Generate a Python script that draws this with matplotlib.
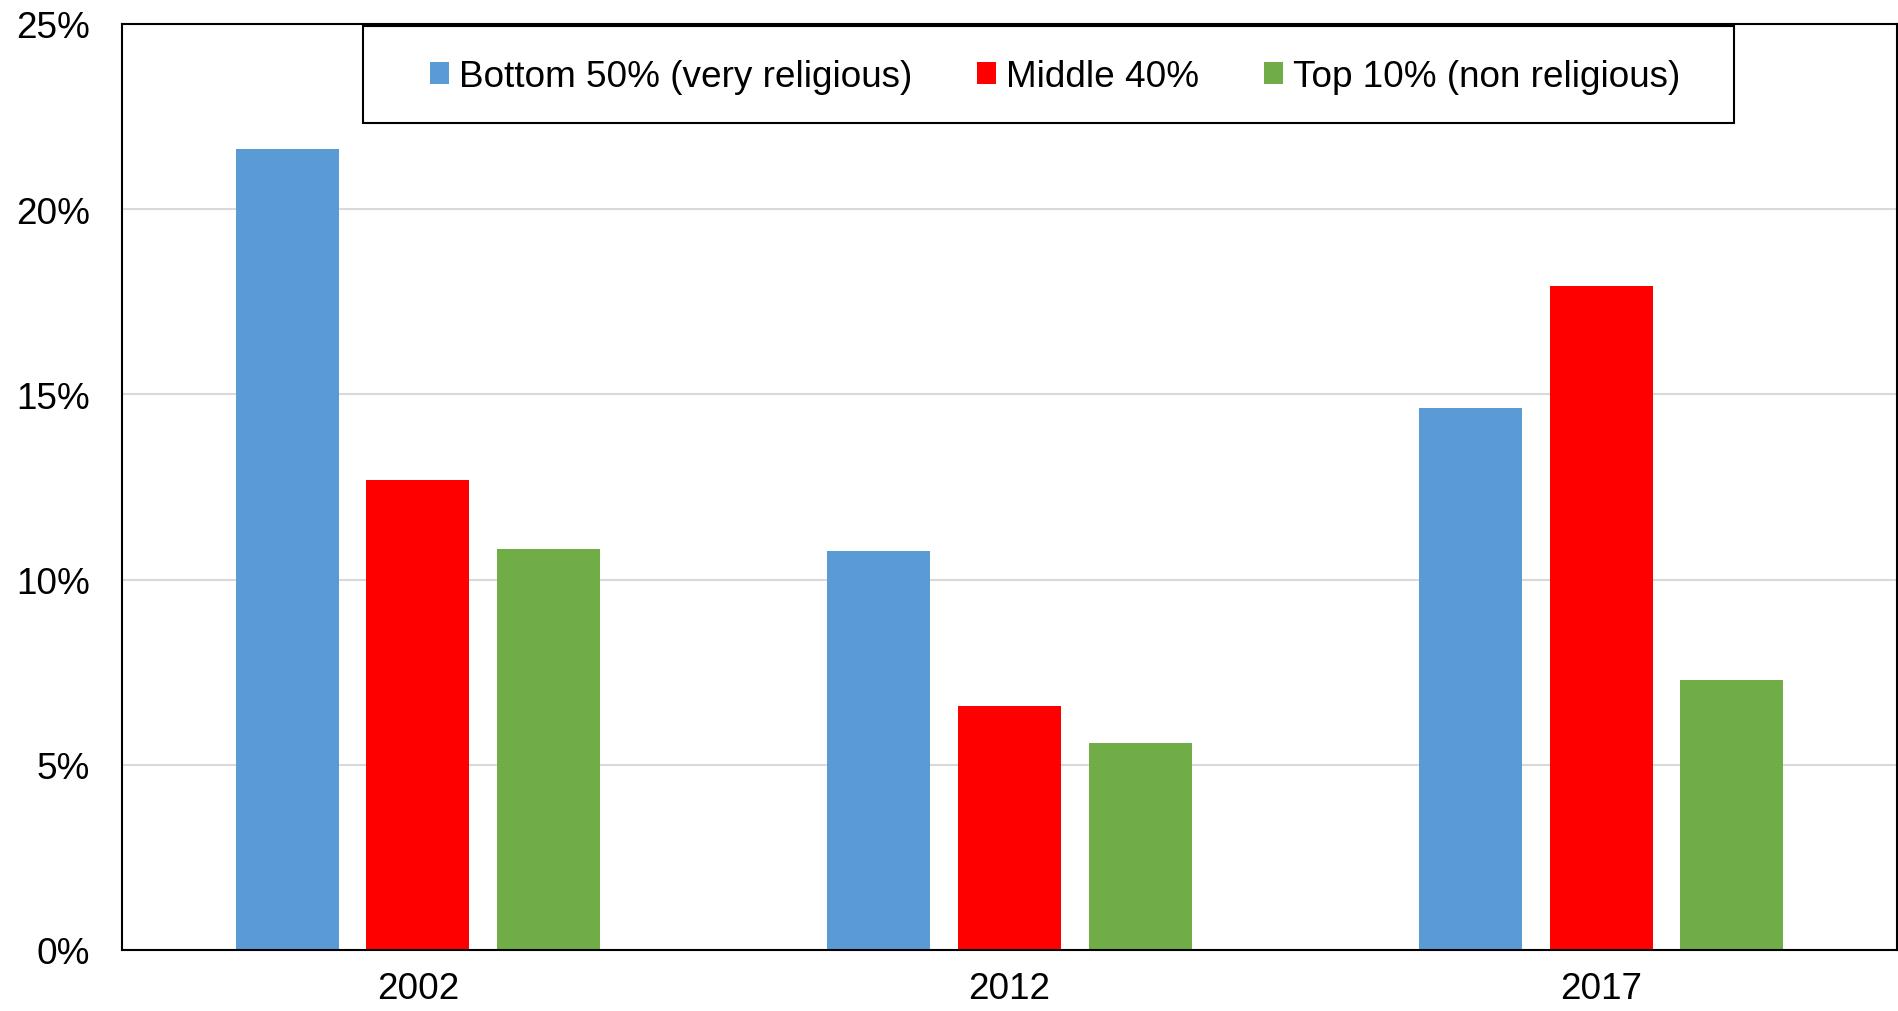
import numpy as np
import matplotlib.pyplot as plt
from matplotlib.patches import Rectangle

plt.rcParams['font.family'] = ['Liberation Sans', 'DejaVu Sans']

years = ['2002', '2012', '2017']
series_names = ['Bottom 50% (very religious)', 'Middle 40%', 'Top 10% (non religious)']
bottom50 = [21.63, 10.78, 14.64]
middle40 = [12.68, 6.60, 17.94]
top10 = [10.82, 5.59, 7.29]
colors = ['#5B9BD5', '#FF0000', '#70AD47']

fig = plt.figure(figsize=(18.99, 10.12), dpi=100)
ax = fig.add_axes([122 / 1899, 1 - 951 / 1012, 1775 / 1899, 926 / 1012])

x = np.arange(len(years))
width = 0.174
step = 0.221
for i, (vals, name) in enumerate(zip([bottom50, middle40, top10], series_names)):
    ax.bar(x + (i - 1) * step, vals, width, color=colors[i], label=name, zorder=2)

ax.set_xlim(-0.5, 2.5)
ax.set_ylim(0, 25)
ax.set_yticks([0, 5, 10, 15, 20, 25])
ax.set_yticklabels([f'{v}%' for v in [0, 5, 10, 15, 20, 25]])
ax.set_xticks(x)
ax.set_xticklabels(years)
ax.tick_params(axis='both', length=0, labelsize=26.6)
ax.tick_params(axis='y', pad=23)
ax.tick_params(axis='x', pad=15)

ax.yaxis.grid(True, color='#D9D9D9', linewidth=1.5, zorder=0)
ax.set_axisbelow(True)
for s in ax.spines.values():
    s.set_color('black')
    s.set_linewidth(1.5)

# legend box drawn by hand, legend itself without frame
box = Rectangle((0.1358, 0.8936), 0.9082 - 0.1358, 0.998 - 0.8936, transform=ax.transAxes,
                facecolor='white', edgecolor='black', linewidth=1.5, zorder=3)
ax.add_patch(box)
leg = ax.legend(loc='center', bbox_to_anchor=(0.5258, 0.943), ncol=3, fontsize=26.6,
                frameon=False, handlelength=0.52, handleheight=0.52, handletextpad=0.27,
                columnspacing=1.75, borderpad=0, borderaxespad=0)
leg.set_zorder(4)

fig.savefig('out.png', dpi=100)
